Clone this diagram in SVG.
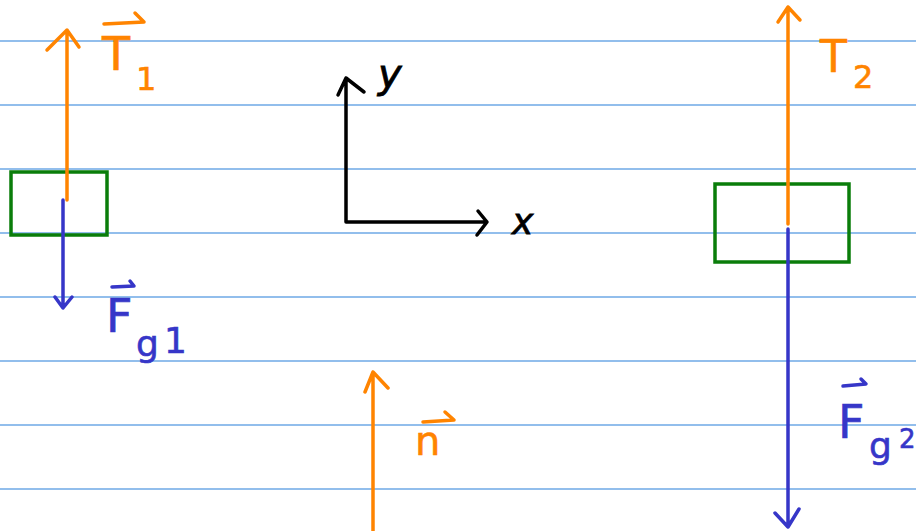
<svg xmlns="http://www.w3.org/2000/svg" width="916" height="531" viewBox="0 0 916 531">
<style>
.rule{stroke:#6ea8e6;stroke-width:1.5}
.or{stroke:#ff8400;stroke-width:3.5;fill:none;stroke-linecap:round;stroke-linejoin:round}
.bl{stroke:#3636c8;stroke-width:3.5;fill:none;stroke-linecap:round;stroke-linejoin:round}
.bk{stroke:#000;stroke-width:3.5;fill:none;stroke-linecap:round;stroke-linejoin:round}
.box{stroke:#0a7d0a;stroke-width:3.5;fill:none}
.to{fill:#ff8400;stroke:#ff8400;stroke-width:0.6;font-family:"DejaVu Sans",sans-serif}
.tb{fill:#3636c8;stroke:#3636c8;stroke-width:0.6;font-family:"DejaVu Sans",sans-serif}
.tk{fill:#000;stroke:#000;stroke-width:0.8;font-family:"DejaVu Sans",sans-serif;font-style:italic}
</style>
<rect width="916" height="531" fill="#fff"/>
<g id="rules">
<line class="rule" x1="0" y1="41" x2="916" y2="41"/>
<line class="rule" x1="0" y1="105" x2="916" y2="105"/>
<line class="rule" x1="0" y1="169" x2="916" y2="169"/>
<line class="rule" x1="0" y1="233" x2="916" y2="233"/>
<line class="rule" x1="0" y1="297" x2="916" y2="297"/>
<line class="rule" x1="0" y1="361" x2="916" y2="361"/>
<line class="rule" x1="0" y1="425" x2="916" y2="425"/>
<line class="rule" x1="0" y1="489" x2="916" y2="489"/>
</g>
<g id="box1"><rect class="box" x="11" y="172" width="96" height="63"/></g>
<g id="box2"><rect class="box" x="715" y="184" width="134" height="78"/></g>
<g id="connectors">
<path class="or" d="M67 200V30M47 50L67 30L79 47"/>
<path class="bl" d="M63 200V308M55 297L63 308L72 297"/>
<path class="bk" d="M346 222V78M338 95L346 78L364 92M346 222H487M478 211L487 222L477 235"/>
<path class="or" d="M788 224V7M778 22L788 7L800 20"/>
<path class="bl" d="M788 229V527M775 513L788 527L799 509"/>
<path class="or" d="M373 531V372M365 392L373 372L388 388"/>
</g>
<g id="label-T1">
<path class="or" d="M104 24L144 22L135 13"/>
<text class="to" x="102" y="70" font-size="46">T</text>
<text class="to" x="136" y="90" font-size="32">1</text>
</g>
<g id="label-Fg1">
<path class="bl" d="M112 287L134 286L130 281"/>
<text class="tb" x="106" y="332" font-size="46">F</text>
<text class="tb" x="136" y="356" font-size="36">g</text>
<text class="tb" x="164" y="353" font-size="36">1</text>
</g>
<g id="label-axes">
<text class="tk" x="378" y="88" font-size="40">y</text>
<text class="tk" x="512" y="234" font-size="36">x</text>
</g>
<g id="label-T2">
<text class="to" x="820" y="72" font-size="44">T</text>
<text class="to" x="853" y="88" font-size="32">2</text>
</g>
<g id="label-Fg2">
<path class="bl" d="M843 386L866 384L861 379"/>
<text class="tb" x="838" y="438" font-size="46">F</text>
<text class="tb" x="869" y="458" font-size="36">g</text>
<text class="tb" x="899" y="448" font-size="26">2</text>
</g>
<g id="label-n">
<path class="or" d="M423 422L454 420L445 412"/>
<text class="to" x="415" y="455" font-size="40">n</text>
</g>
</svg>
